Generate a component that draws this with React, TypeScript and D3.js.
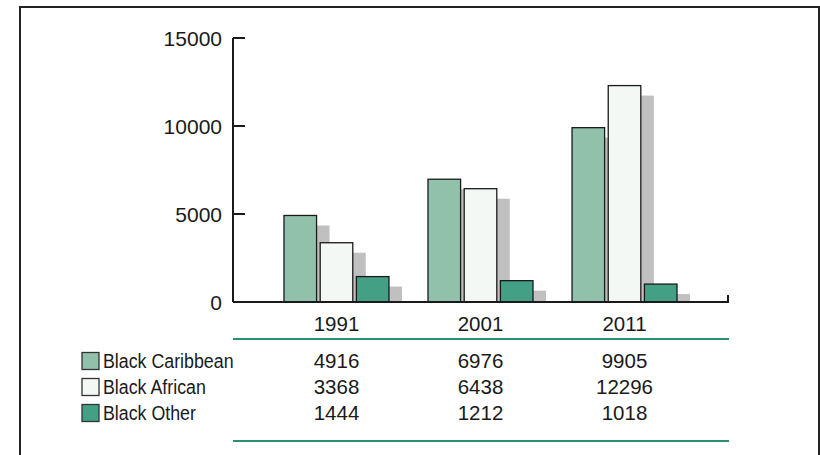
import { scaleBand, scaleLinear } from "d3"

const years = ["1991", "2001", "2011"]
const seriesNames = ["Black Caribbean", "Black African", "Black Other"]
const caribbean = [4916, 6976, 9905]
const african = [3368, 6438, 12296]
const other = [1444, 1212, 1018]
const yTicks = [0, 5000, 10000, 15000]

const seriesValues = [caribbean, african, other]
const COLORS = ["#92c1ab", "#f3f8f4", "#43a085"]
const SHADOW = "#c0c0c0"
const INK = "#1a1a1a"
const RULE = "#2a8f71"
const FONT = "'Liberation Sans', Arial, Helvetica, sans-serif"

const W = 820
const H = 455
const left = 233
const right = 728
const top = 38
const bottom = 302

export default function App() {
  const x0 = scaleBand<string>()
    .domain(years)
    .range([left, right])
    .paddingInner(0.271)
    .paddingOuter(0.354)
  const x1 = scaleBand<string>()
    .domain(seriesNames)
    .range([0, x0.bandwidth()])
    .paddingInner(0.1)
  const y = scaleLinear().domain([0, 15000]).range([bottom, top])

  const shadowDx = 13
  const shadowDy = 10

  const bars = years.flatMap((yr, i) =>
    seriesNames.map((s, j) => ({
      key: `${yr}-${s}`,
      x: x0(yr)! + x1(s)!,
      y: y(seriesValues[j][i]),
      h: bottom - y(seriesValues[j][i]),
      color: COLORS[j],
    }))
  )

  const rowY = [361, 387, 413]
  const numSize = 20.5

  return (
    <svg
      width={W}
      height={H}
      style={{ position: "absolute", left: 0, top: 0, fontFamily: FONT }}
    >
      <rect x={0} y={0} width={W} height={H} fill="#fff" />
      <rect x={20} y={7} width={799} height={460} fill="none" stroke="#222" strokeWidth={2} />

      {/* shadows */}
      {bars.map((b) => (
        <rect
          key={`sh-${b.key}`}
          x={b.x + shadowDx}
          y={b.y + shadowDy}
          width={x1.bandwidth()}
          height={Math.max(0, b.h - shadowDy)}
          fill={SHADOW}
        />
      ))}

      {/* bars */}
      {bars.map((b) => (
        <rect
          key={b.key}
          x={b.x}
          y={b.y}
          width={x1.bandwidth()}
          height={b.h}
          fill={b.color}
          stroke={INK}
          strokeWidth={1.3}
        />
      ))}

      {/* y axis */}
      <line x1={left} x2={left} y1={top} y2={bottom} stroke={INK} strokeWidth={2} />
      {yTicks.map((t) => (
        <g key={t} transform={`translate(0,${y(t)})`}>
          <line x1={left} x2={left + 12} stroke={INK} strokeWidth={2} />
          <text
            x={left - 11}
            dy="0.36em"
            textAnchor="end"
            fontSize={21}
            fill={INK}
          >
            {t}
          </text>
        </g>
      ))}
      {/* baseline */}
      <path
        d={`M${left},${bottom}H${right}V${bottom - 7}`}
        fill="none"
        stroke={INK}
        strokeWidth={2}
      />

      {/* table */}
      {years.map((yr) => (
        <text
          key={yr}
          x={x0(yr)! + x0.bandwidth() / 2}
          y={324}
          dy="0.36em"
          textAnchor="middle"
          fontSize={numSize}
          fill={INK}
        >
          {yr}
        </text>
      ))}
      <line x1={left} x2={right + 1} y1={339} y2={339} stroke={RULE} strokeWidth={2} />
      <line x1={left} x2={right + 1} y1={441} y2={441} stroke={RULE} strokeWidth={2} />

      {seriesNames.map((s, j) => (
        <g key={s}>
          <rect
            x={82}
            y={rowY[j] - 8.5}
            width={17}
            height={17}
            fill={COLORS[j]}
            stroke="#333"
            strokeWidth={1.3}
          />
          <text
            transform={`translate(103,${rowY[j]}) scale(0.89,1)`}
            dy="0.36em"
            fontSize={20}
            fill={INK}
          >
            {s}
          </text>
          {years.map((yr, i) => (
            <text
              key={yr}
              x={x0(yr)! + x0.bandwidth() / 2}
              y={rowY[j]}
              dy="0.36em"
              textAnchor="middle"
              fontSize={numSize}
              fill={INK}
            >
              {seriesValues[j][i]}
            </text>
          ))}
        </g>
      ))}
    </svg>
  )
}
